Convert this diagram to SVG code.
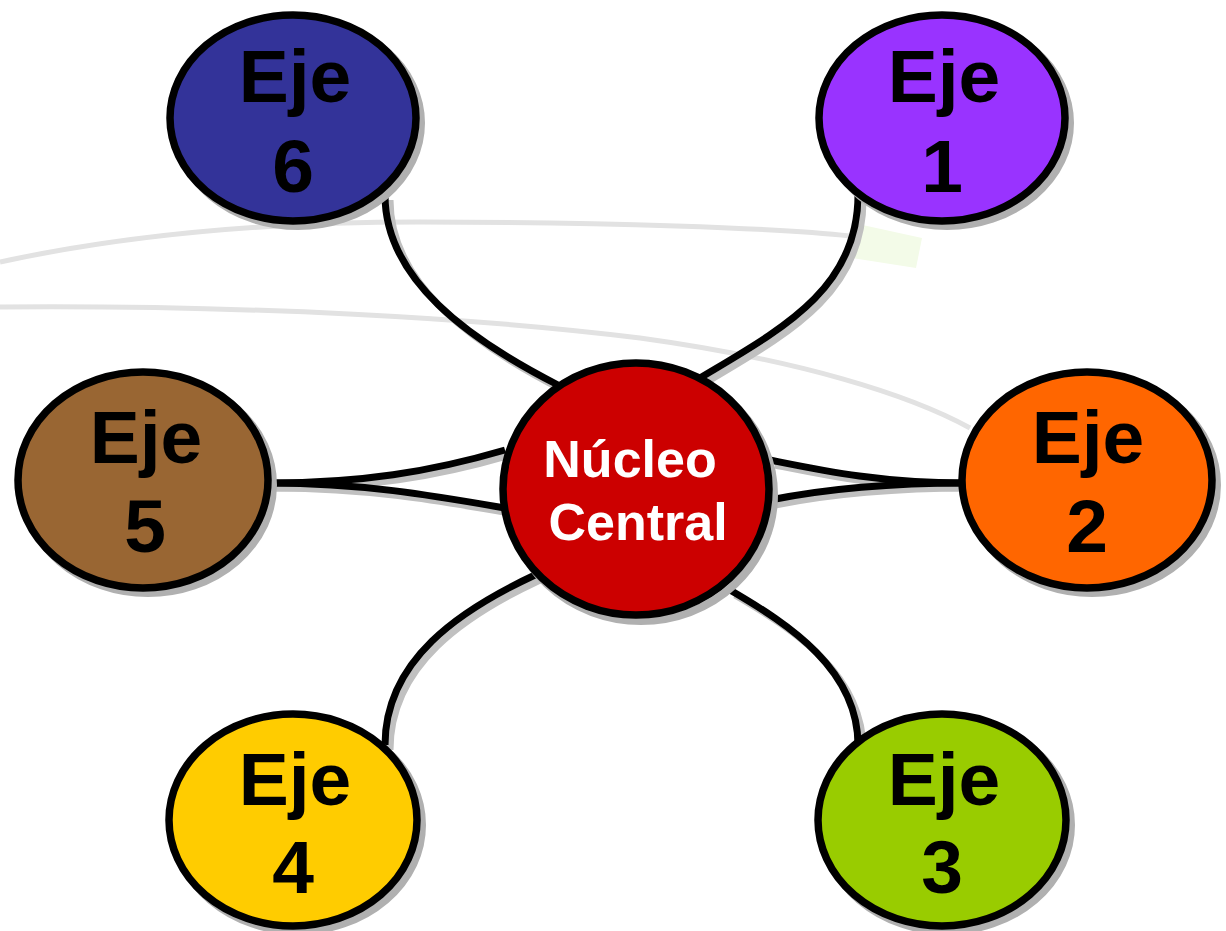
<svg xmlns="http://www.w3.org/2000/svg" width="1226" height="931" viewBox="0 0 1226 931">
<defs>
<style>
.node{stroke:#000;stroke-width:7.5}
.shadow{fill:none;stroke:#b0b0b0;stroke-width:8}
.conn{fill:none;stroke:#000;stroke-width:7}
.connsh{fill:none;stroke:#c0c0c0;stroke-width:7}
.lab{font-family:"Liberation Sans",Arial,sans-serif;font-weight:bold;font-size:75px;fill:#000;text-anchor:middle}
.core{font-family:"Liberation Sans",Arial,sans-serif;font-weight:bold;font-size:52px;fill:#fff;text-anchor:middle}
.bg{fill:none;stroke:#e2e2e2;stroke-width:5}
</style>
</defs>
<rect width="1226" height="931" fill="#fff"/>
<g id="background">
<path class="bg" d="M0,262 C120,236 260,222 420,222 C600,222 780,228 850,236"/>
<path class="bg" d="M0,307 C250,305 480,318 640,338 C800,360 910,395 970,428"/>
<polygon points="858,224 922,238 916,268 852,258" fill="#f3fbe8"/>
</g>
<g id="connectors">
<g transform="translate(5,5)">
<path class="connsh" d="M385,195 C385,280 470,340 558,385"/>
<path class="connsh" d="M858,195 C858,290 780,330 700,378"/>
<path class="connsh" d="M270,483 C360,483 430,472 505,450"/>
<path class="connsh" d="M270,483 C360,483 430,495 505,508"/>
<path class="connsh" d="M965,483 C880,483 820,470 770,460"/>
<path class="connsh" d="M965,483 C880,483 820,490 770,500"/>
<path class="connsh" d="M385,745 C385,660 460,610 535,575"/>
<path class="connsh" d="M858,745 C858,670 790,625 730,590"/>
</g>
<path class="conn" d="M385,195 C385,280 470,340 558,385"/>
<path class="conn" d="M858,195 C858,290 780,330 700,378"/>
<path class="conn" d="M270,483 C360,483 430,472 505,450"/>
<path class="conn" d="M270,483 C360,483 430,495 505,508"/>
<path class="conn" d="M965,483 C880,483 820,470 770,460"/>
<path class="conn" d="M965,483 C880,483 820,490 770,500"/>
<path class="conn" d="M385,745 C385,660 460,610 535,575"/>
<path class="conn" d="M858,745 C858,670 790,625 730,590"/>
</g>
<g id="eje6">
<ellipse class="shadow" cx="298" cy="123" rx="123" ry="103"/>
<ellipse class="node" cx="293" cy="118" rx="123" ry="103" fill="#333399"/>
<text class="lab" x="295" y="102">Eje</text>
<text class="lab" x="293" y="192">6</text>
</g>
<g id="eje1">
<ellipse class="shadow" cx="947" cy="123" rx="123" ry="103"/>
<ellipse class="node" cx="942" cy="118" rx="123" ry="103" fill="#9933ff"/>
<text class="lab" x="944" y="102">Eje</text>
<text class="lab" x="942" y="192">1</text>
</g>
<g id="eje5">
<ellipse class="shadow" cx="148" cy="485" rx="125" ry="108"/>
<ellipse class="node" cx="143" cy="480" rx="125" ry="108" fill="#996633"/>
<text class="lab" x="146" y="463">Eje</text>
<text class="lab" x="145" y="552">5</text>
</g>
<g id="eje2">
<ellipse class="shadow" cx="1092" cy="485" rx="125" ry="108"/>
<ellipse class="node" cx="1087" cy="480" rx="125" ry="108" fill="#ff6600"/>
<text class="lab" x="1088" y="463">Eje</text>
<text class="lab" x="1087" y="552">2</text>
</g>
<g id="eje4">
<ellipse class="shadow" cx="298" cy="825" rx="124" ry="106"/>
<ellipse class="node" cx="293" cy="820" rx="124" ry="106" fill="#ffcc00"/>
<text class="lab" x="295" y="805">Eje</text>
<text class="lab" x="293" y="893">4</text>
</g>
<g id="eje3">
<ellipse class="shadow" cx="947" cy="825" rx="124" ry="106"/>
<ellipse class="node" cx="942" cy="820" rx="124" ry="106" fill="#99cc00"/>
<text class="lab" x="944" y="805">Eje</text>
<text class="lab" x="942" y="893">3</text>
</g>
<g id="nucleo">
<ellipse class="shadow" cx="641" cy="495" rx="133" ry="126"/>
<ellipse class="node" cx="636" cy="489" rx="133" ry="126" fill="#cc0000"/>
<text class="core" x="630" y="477">Núcleo</text>
<text class="core" x="638" y="540">Central</text>
</g>
</svg>
